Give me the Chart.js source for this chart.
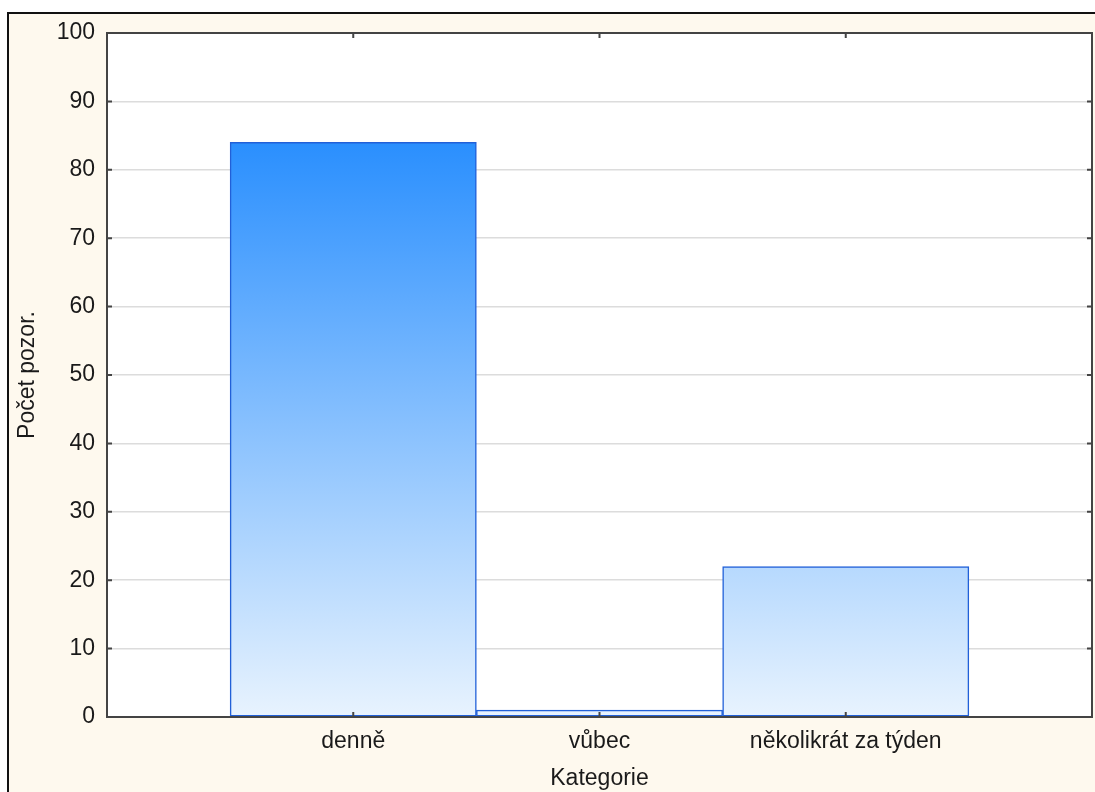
<!DOCTYPE html>
<html>
<head>
<meta charset="utf-8">
<script src="https://cdn.jsdelivr.net/npm/chart.js@4"></script>
<style>
  body { margin: 0; background: #fff; }
  canvas { display: block; }
</style>
</head>
<body>
<canvas id="mychart" width="1095" height="792"></canvas>
<script>
// data
const categories = ['denně', 'vůbec', 'několikrát za týden'];
const counts = [84, 1, 22];
const yTicks = [0, 10, 20, 30, 40, 50, 60, 70, 80, 90, 100];

// empty slot on each side, like the original plot
const labels = [''].concat(categories, ['']);
const values = [null].concat(counts, [null]);

const cream = '#fef9ee';
const frameColor = '#444';
const font = "'Liberation Sans', Arial, sans-serif";

const background = {
  id: 'background',
  beforeDraw(chart) {
    const c = chart.ctx;
    c.save();
    c.fillStyle = '#fff';
    c.fillRect(0, 0, chart.width, chart.height);
    c.fillStyle = cream;
    c.fillRect(8, 13, chart.width - 8, chart.height - 13);
    c.strokeStyle = '#111';
    c.lineWidth = 2;
    c.beginPath();
    c.moveTo(8, chart.height);
    c.lineTo(8, 13);
    c.lineTo(chart.width, 13);
    c.stroke();
    const a = chart.chartArea;
    c.fillStyle = '#fff';
    c.fillRect(a.left, a.top, a.right - a.left, a.bottom - a.top);
    c.restore();
  },
  afterDatasetsDraw(chart) {
    const c = chart.ctx;
    const a = chart.chartArea;
    const x = chart.scales.x, y = chart.scales.y;
    c.save();
    c.strokeStyle = frameColor;
    c.lineWidth = 2;
    c.strokeRect(a.left, a.top, a.right - a.left, a.bottom - a.top);
    // small inward tick marks
    c.beginPath();
    yTicks.forEach(v => {
      const py = y.getPixelForValue(v);
      c.moveTo(a.left, py); c.lineTo(a.left + 5, py);
      c.moveTo(a.right, py); c.lineTo(a.right - 5, py);
    });
    categories.forEach((cat, i) => {
      const px = x.getPixelForValue(i + 1);
      c.moveTo(px, a.bottom); c.lineTo(px, a.bottom - 5);
      c.moveTo(px, a.top); c.lineTo(px, a.top + 5);
    });
    c.stroke();
    c.restore();
  }
};

function barFill(ctx) {
  const chart = ctx.chart;
  if (!chart.chartArea) return '#7ab8fd';
  const y = chart.scales.y;
  const g = chart.ctx.createLinearGradient(0, y.getPixelForValue(Math.max(...counts)), 0, y.getPixelForValue(0));
  g.addColorStop(0, '#2a8ffe');
  g.addColorStop(1, '#e8f3fe');
  return g;
}

let myChart = new Chart(document.getElementById('mychart').getContext('2d'), {
  type: 'bar',
  data: {
    labels: labels,
    datasets: [{
      label: 'Počet pozor.',
      data: values,
      backgroundColor: barFill,
      borderColor: '#2160d8',
      borderWidth: 1.5,
      borderSkipped: false,
      barPercentage: 1,
      categoryPercentage: 1
    }]
  },
  options: {
    responsive: false,
    animation: false,
    layout: { padding: { top: 33, right: 3, left: 0, bottom: 0 } },
    plugins: {
      legend: { display: false },
      tooltip: { enabled: false }
    },
    scales: {
      x: {
        offset: false,
        grid: { display: false, drawTicks: false },
        border: { display: false },
        ticks: {
          color: '#1a1a1a',
          font: { family: font, size: 23 },
          padding: 11,
          maxRotation: 0,
          autoSkip: false
        },
        title: {
          display: true,
          text: 'Kategorie',
          color: '#1a1a1a',
          font: { family: font, size: 23 },
          padding: { top: 0, bottom: 0 }
        },
        afterFit(scale) {
          scale.height = 75;
          scale.paddingLeft = 0;
          scale.paddingRight = 0;
        }
      },
      y: {
        min: 0,
        max: 100,
        grid: { color: '#dcdcdc', lineWidth: 1.5, drawTicks: false },
        border: { display: false },
        ticks: {
          stepSize: 10,
          color: '#1a1a1a',
          font: { family: font, size: 23 },
          padding: 12
        },
        title: {
          display: true,
          text: 'Počet pozor.',
          color: '#1a1a1a',
          font: { family: font, size: 23 },
          padding: { top: 14, bottom: 0 }
        },
        afterFit(scale) { scale.width = 107; }
      }
    }
  },
  plugins: [background]
});
</script>
</body>
</html>
